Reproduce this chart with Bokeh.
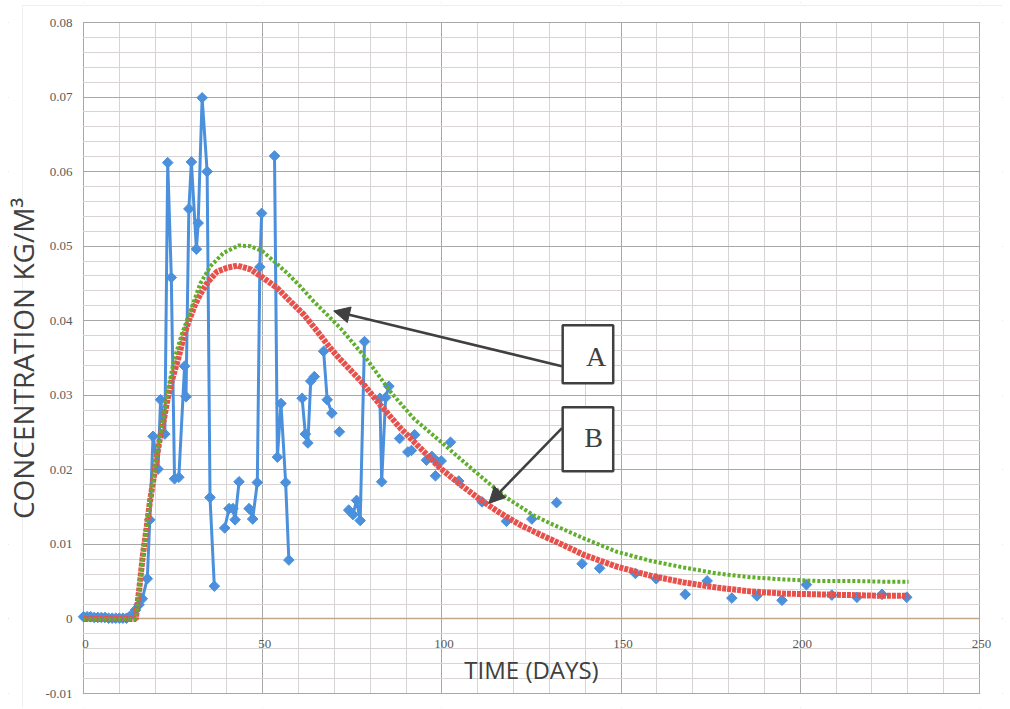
import numpy as np
from bokeh.plotting import figure
from bokeh.models import (ColumnDataSource, FixedTicker, Grid, BoxAnnotation, Label,
                          LabelSet, Arrow, NormalHead)
from bokeh.embed import file_html
from bokeh.resources import INLINE

# ---- measured concentration (kg/m3) versus time (days) ----
obs_day = [0, 1, 2, 3, 4, 5, 6, 7, 8, 9, 10, 11, 12, 13, 14.5, 15.5, 16.4, 17.8,
           18.5, 19.4, 20.8, 21.5, 22.7, 23.5, 24.5, 25.4, 26.6, 28.2, 28.6, 29.4,
           30.1, 31.5, 32.0, 33.1, 34.5, 35.3, 36.5,
           39.4, 40.6, 41.7, 42.3, 43.4,
           46.2, 47.2, 48.5, 49.2, 49.7,
           53.3, 54.1, 55.1, 56.4, 57.3,
           61.0, 61.9, 62.6, 63.4, 64.4,
           67.0, 68.0, 69.3,
           71.4,
           74.0, 75.2, 76.2, 77.2, 78.4,
           82.7, 83.2, 84.3, 85.2,
           88.2, 90.5, 91.5, 92.4, 95.7, 97.2, 98.2, 98.7, 99.8, 102.4, 104.7,
           111.2, 118.0, 125.1, 132.0, 139.1, 144.0, 154.0, 159.8, 167.9, 174.0,
           180.9, 187.9, 194.9, 201.7, 208.8, 215.8, 222.8, 229.7]
obs_conc = [0.0003, 0.0003, 0.0003, 0.0002, 0.0002, 0.0002, 0.0002, 0.0001, 0.0001,
            0.0001, 0.0001, 0.0001, 0.0001, 0.0004, 0.0012, 0.0019, 0.0027, 0.0054,
            0.0133, 0.0245, 0.0201, 0.0294, 0.0248, 0.0612, 0.0458, 0.0188, 0.0190,
            0.0339, 0.0298, 0.0550, 0.0613, 0.0496, 0.0531, 0.0699, 0.0600, 0.0163,
            0.0044,
            0.0122, 0.0148, 0.0148, 0.0133, 0.0184,
            0.0148, 0.0134, 0.0183, 0.0472, 0.0544,
            0.0621, 0.0217, 0.0289, 0.0183, 0.0079,
            0.0296, 0.0248, 0.0236, 0.0319, 0.0325,
            0.0359, 0.0294, 0.0276,
            0.0251,
            0.0146, 0.0140, 0.0159, 0.0132, 0.0372,
            0.0296, 0.0184, 0.0297, 0.0312,
            0.0242, 0.0224, 0.0226, 0.0247, 0.0213, 0.0218, 0.0192, 0.0211, 0.0212,
            0.0237, 0.0185,
            0.0157, 0.0131, 0.0134, 0.0156, 0.0074, 0.0068, 0.0061, 0.0054, 0.0033,
            0.0051, 0.0028, 0.0031, 0.0025, 0.0046, 0.0032, 0.0029, 0.0033, 0.0029]
# samples sharing a run number are joined by a line; run 0 = stand-alone sample
obs_run = [1] * 37 + [2] * 5 + [3] * 5 + [4] * 5 + [5] * 5 + [6] * 3 + [0] + \
          [7] * 5 + [8] * 4 + [0] * 29

# ---- model curve A ----
curve_a_day = [0, 14.6, 15.6, 16.5, 17.6, 18.5, 19.6, 20.5, 21.5, 22.6, 23.3, 25.2,
               27.3, 29.8, 32.6, 35.4, 39.1, 43.3, 46.6, 50.0, 53.1, 56.8, 60.5, 64.2,
               68.0, 71.7, 79.1, 85.6, 92.1, 99.6, 107.0, 112.6, 118.2, 125.6, 130.3,
               139.6, 148.9, 158.2, 167.5, 176.8, 186.0, 195.3, 204.6, 214.0, 223.2,
               230.2]
curve_a_conc = [0, 0, 0.0042, 0.0083, 0.0122, 0.0156, 0.0191, 0.0221, 0.0250, 0.0278,
                0.0301, 0.0346, 0.0380, 0.0413, 0.0450, 0.0473, 0.0491, 0.0501, 0.0500,
                0.0493, 0.0480, 0.0464, 0.0446, 0.0426, 0.0408, 0.0390, 0.0348, 0.0305,
                0.0269, 0.0238, 0.0207, 0.0184, 0.0162, 0.0139, 0.0128, 0.0108, 0.0090,
                0.0078, 0.0069, 0.0061, 0.0056, 0.0053, 0.0051, 0.0051, 0.0050, 0.0050]

# ---- model curve B ----
curve_b_day = [0, 14.6, 15.6, 16.5, 17.6, 18.5, 19.6, 20.5, 21.5, 22.6, 23.5, 24.5,
               26.6, 28.0, 29.4, 31.0, 32.6, 34.7, 37.3, 40.1, 42.9, 46.6, 50.3, 54.0,
               57.7, 61.5, 65.2, 68.9, 71.7, 77.4, 82.8, 88.4, 94.0, 99.6, 105.2, 110.7,
               116.3, 121.9, 127.5, 133.0, 139.6, 148.9, 158.2, 167.5, 176.8, 186.0,
               195.3, 204.6, 214.0, 223.2, 230.2]
curve_b_conc = [0, 0, 0.0042, 0.0083, 0.0122, 0.0156, 0.0190, 0.0219, 0.0247, 0.0272,
                0.0296, 0.0317, 0.0352, 0.0380, 0.0400, 0.0420, 0.0436, 0.0452, 0.0466,
                0.0471, 0.0474, 0.0469, 0.0457, 0.0444, 0.0426, 0.0408, 0.0386, 0.0363,
                0.0348, 0.0319, 0.0287, 0.0256, 0.0229, 0.0202, 0.0180, 0.0160, 0.0142,
                0.0126, 0.0113, 0.0101, 0.0086, 0.0070, 0.0058, 0.0049, 0.0042, 0.0037,
                0.0034, 0.0033, 0.0032, 0.0031, 0.0031]

# ---- axes ----
x_ticks = [0, 50, 100, 150, 200, 250]
x_tick_labels = ["0", "50", "100", "150", "200", "250"]
y_ticks = [-0.01, 0.0, 0.01, 0.02, 0.03, 0.04, 0.05, 0.06, 0.07, 0.08]
y_tick_labels = ["-0.01", "0", "0.01", "0.02", "0.03", "0.04", "0.05", "0.06", "0.07", "0.08"]
x_minor_step = 10
y_minor_step = 0.002

BLUE = "#4b90dc"
RED = "#e8514b"
GREEN = "#5fae2c"
INK = "#404040"
TICK_INK = "#595959"
FONT = "Open Sans"

# page geometry: the drawing frame fills nearly the whole canvas so that the
# tick labels and titles (drawn as annotations) are never clipped; the plot
# area proper (0..250 days, -0.01..0.08) sits inside it.
W, H = 1010, 709
FRAME_L, FRAME_R, FRAME_T, FRAME_B = 8, 1002, 2, 707
AREA_L, AREA_R, AREA_T, AREA_B = 83, 979, 22, 693
X_LO, X_HI, Y_LO, Y_HI = 0.0, 250.0, -0.01, 0.08
kx = (AREA_R - AREA_L) / (X_HI - X_LO)
ky = (AREA_B - AREA_T) / (Y_HI - Y_LO)


def xat(px):
    return X_LO + (px - AREA_L) / kx


def yat(py):
    return Y_LO + (AREA_B - py) / ky


p = figure(width=W, height=H,
           x_range=(xat(FRAME_L), xat(FRAME_R)), y_range=(yat(FRAME_B), yat(FRAME_T)),
           x_axis_location=None, y_axis_location=None,
           output_backend="svg", toolbar_location=None,
           min_border_left=FRAME_L, min_border_right=W - FRAME_R,
           min_border_top=FRAME_T, min_border_bottom=H - FRAME_B,
           background_fill_color="white", border_fill_color="white")
p.outline_line_color = None

x_minor = [float(v) for v in np.round(np.arange(X_LO, X_HI + 1e-9, x_minor_step), 6)]
y_minor = [float(v) for v in np.round(np.arange(Y_LO, Y_HI + 1e-9, y_minor_step), 6)]

p.xgrid.ticker = FixedTicker(ticks=x_ticks, minor_ticks=x_minor)
p.xgrid.grid_line_color = "#a8a8a8"
p.xgrid.minor_grid_line_color = "#d4d4d4"
p.ygrid.ticker = FixedTicker(ticks=y_ticks, minor_ticks=y_minor)
p.ygrid.grid_line_color = "#a8a8a8"
p.ygrid.minor_grid_line_color = "#dad3d3"

# horizontal axis line through zero
p.add_layout(Grid(dimension=1, ticker=FixedTicker(ticks=[0.0]),
                  grid_line_color="#c4a68a", grid_line_width=1.5))

# white margins trim the grid to the plot area
gap_x, gap_y = 0.6 / kx, 0.6 / ky
for kw in [dict(right=X_LO - gap_x), dict(left=X_HI + gap_x),
           dict(bottom=Y_HI + gap_y), dict(top=Y_LO - gap_y)]:
    p.add_layout(BoxAnnotation(fill_color="white", fill_alpha=1.0, line_color=None,
                               level="underlay", **kw))

# chart-area border (top and left edges)
p.add_layout(BoxAnnotation(left=xat(22), top=yat(5), right=xat(W + 40), bottom=yat(H + 40),
                           fill_color=None, line_color="#c9c9c9", line_width=1,
                           level="underlay"))

# tick labels
ytick_src = ColumnDataSource(dict(x=[X_LO] * len(y_ticks), y=y_ticks, text=y_tick_labels))
p.add_layout(LabelSet(x="x", y="y", text="text", source=ytick_src,
                      text_align="right", text_baseline="middle", x_offset=-11,
                      text_font=FONT, text_font_size="13px", text_color=TICK_INK))
xtick_src = ColumnDataSource(dict(x=x_ticks, y=[0.0] * len(x_ticks), text=x_tick_labels))
p.add_layout(LabelSet(x="x", y="y", text="text", source=xtick_src,
                      text_align="center", text_baseline="middle", x_offset=2, y_offset=-25,
                      text_font=FONT, text_font_size="13px", text_color=TICK_INK))

# axis titles
p.add_layout(Label(x=xat(22), y=yat(358), text="CONCENTRATION KG/M³", angle=np.pi / 2,
                   text_align="center", text_baseline="middle", text_font=FONT,
                   text_font_size="28px", text_color=INK))
p.add_layout(Label(x=125, y=-0.0068, text="TIME (DAYS)", text_align="center",
                   text_baseline="middle", text_font=FONT, text_font_size="24px",
                   text_color=INK))

# measured data: joined runs plus markers
runs = sorted(set(r for r in obs_run if r > 0))
run_x = [[d for d, r in zip(obs_day, obs_run) if r == k] for k in runs]
run_y = [[c for c, r in zip(obs_conc, obs_run) if r == k] for k in runs]
p.multi_line(run_x, run_y, line_color=BLUE, line_width=3)
p.scatter(obs_day, obs_conc, marker="square", angle=np.pi / 4, size=7.5,
          fill_color=BLUE, line_color=BLUE)

# model curves
p.line(curve_b_day, curve_b_conc, line_color=RED, line_width=6, line_dash="4 1")
p.line(curve_a_day, curve_a_conc, line_color=GREEN, line_width=4, line_dash="3 2")

# callouts
for left, right, top, bottom in [(133.7, 147.8, 0.0394, 0.0316),
                                  (133.7, 147.8, 0.0284, 0.0198)]:
    p.add_layout(BoxAnnotation(left=left, right=right, top=top, bottom=bottom,
                               fill_color="white", fill_alpha=1.0,
                               line_color=INK, line_width=2.5, line_alpha=1.0))

p.add_layout(Label(x=143.0, y=0.0352, text="A", text_align="center", text_baseline="middle",
                   text_font="Liberation Serif", text_font_size="28px", text_color=INK))
p.add_layout(Label(x=142.3, y=0.0243, text="B", text_align="center", text_baseline="middle",
                   text_font="Liberation Serif", text_font_size="28px", text_color=INK))

p.add_layout(Arrow(x_start=133.5, y_start=0.0339, x_end=69.8, y_end=0.0413,
                   line_color=INK, line_width=2.5,
                   end=NormalHead(size=16, fill_color=INK, line_color=INK)))
p.add_layout(Arrow(x_start=133.5, y_start=0.0256, x_end=113.1, y_end=0.0155,
                   line_color=INK, line_width=2.5,
                   end=NormalHead(size=16, fill_color=INK, line_color=INK)))

open("out.html", "w").write(file_html(p, INLINE))
